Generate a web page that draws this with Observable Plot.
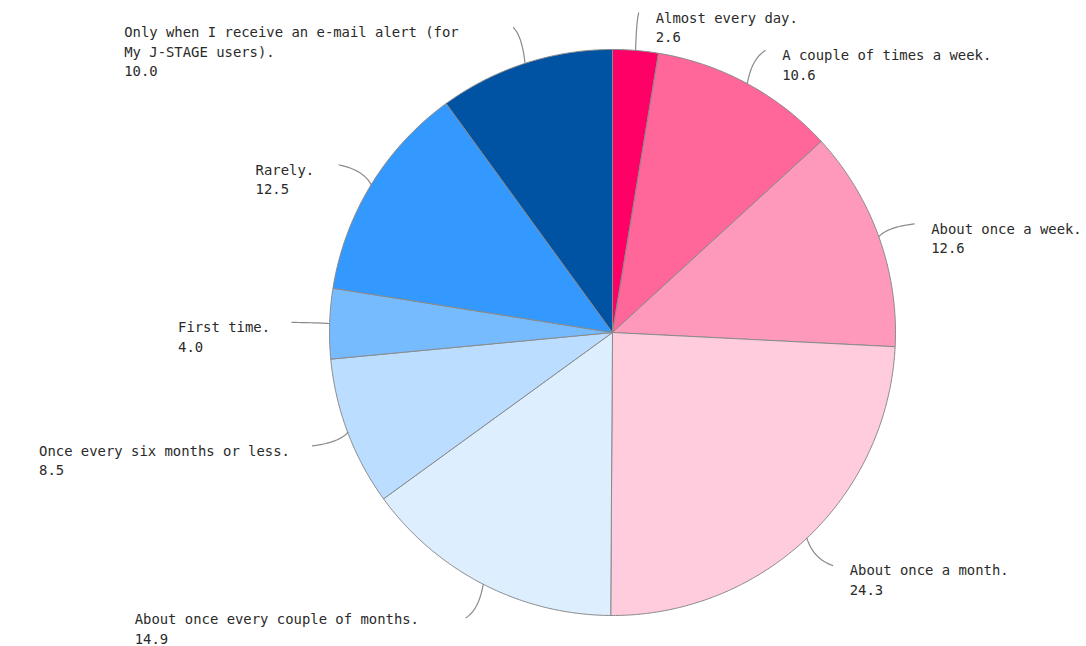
<!DOCTYPE html>
<html><head><meta charset="utf-8">
<script src="https://cdn.jsdelivr.net/npm/d3@7"></script>
<script src="https://cdn.jsdelivr.net/npm/@observablehq/plot@0.6"></script>
<style>body{margin:0;background:#fff}</style>
</head><body><div id="chart"></div>
<script>
// ---- data ----
const categories = [
  "Almost every day.",
  "A couple of times a week.",
  "About once a week.",
  "About once a month.",
  "About once every couple of months.",
  "Once every six months or less.",
  "First time.",
  "Rarely.",
  "Only when I receive an e-mail alert (for\nMy J-STAGE users)."
];
const values = [2.6, 10.6, 12.6, 24.3, 14.9, 8.5, 4.0, 12.5, 10.0];
const valueLabels = ["2.6", "10.6", "12.6", "24.3", "14.9", "8.5", "4.0", "12.5", "10.0"];
const colors = ["#FF0066", "#FF6699", "#FF99BB", "#FFCCDD", "#DDEEFF", "#BBDDFF", "#77BBFF", "#3399FF", "#0052A3"];

// ---- layout ----
const W = 1086, H = 646;
const R = 283;              // pixels per data unit (pie radius = 1)
const PX = 1 / R;
const FONT = "DejaVu Sans Mono";
const FS = 13.9;
const LH = 1.4;
const CY = 332;

const arcs = d3.pie().sort(null).value(d => d)(values);

// slice polygons
const slices = [];
arcs.forEach((a, i) => {
  slices.push({i, x: 0, y: 0, color: colors[i]});
  const n = Math.max(4, Math.ceil((a.endAngle - a.startAngle) / (Math.PI / 360)));
  for (let k = 0; k <= n; k++) {
    const t = a.startAngle + (a.endAngle - a.startAngle) * k / n;
    slices.push({i, x: Math.sin(t), y: Math.cos(t), color: colors[i]});
  }
  slices.push({i, x: 0, y: 0, color: colors[i]});
});

// leader lines + label anchors
const ctx = document.createElement("canvas").getContext("2d");
ctx.font = `${FS}px "${FONT}"`;
const leaders = [];
const labels = [];
arcs.forEach((a, i) => {
  const m = (a.startAngle + a.endAngle) / 2;
  const s = Math.sin(m), c = Math.cos(m);
  const p0 = [s, c];
  const p2 = [1.133 * s, 1.133 * c];
  const mid = [(p0[0] + p2[0]) / 2, (p0[1] + p2[1]) / 2];
  const ctrl = [0.5 * mid[0] + 0.5 * p0[0], 0.5 * mid[1] + 0.5 * p2[1]];
  for (let k = 0; k <= 16; k++) {
    const t = k / 16;
    const x = (1 - t) * (1 - t) * p0[0] + 2 * (1 - t) * t * ctrl[0] + t * t * p2[0];
    const y = (1 - t) * (1 - t) * p0[1] + 2 * (1 - t) * t * ctrl[1] + t * t * p2[1];
    leaders.push({i, x, y});
  }
  const text = categories[i] + "\n" + valueLabels[i];
  const lines = text.split("\n");
  const width = d3.max(lines, l => ctx.measureText(l).width);
  let x;
  if (s >= 0) x = p2[0] + 17 * PX;
  else x = p2[0] - (22 + 40 * Math.pow(c, 4) + width) * PX;
  // top of text block, in pixels; keep inside the picture
  let topPx = CY - p2[1] * R - 4;
  const blockH = (lines.length - 1) * LH * FS + FS * 1.05;
  topPx = Math.min(topPx, H - 2 - blockH);
  labels.push({x, y: (CY - topPx) / R, text});
});

const chart = Plot.plot({
  width: W,
  height: H,
  margin: 0,
  x: {domain: [-612 / R, (W - 612) / R], axis: null},
  y: {domain: [(CY - H) / R, CY / R], axis: null},
  color: {type: "identity"},
  style: {background: "#fff"},
  marks: [
    Plot.line(slices, {x: "x", y: "y", z: "i", fill: "color", stroke: "#8a8a8a", strokeWidth: 1, curve: "linear"}),
    Plot.line(leaders, {x: "x", y: "y", z: "i", stroke: "#8a8a8a", strokeWidth: 1.2, curve: "linear"}),
    Plot.text(labels, {x: "x", y: "y", text: "text", textAnchor: "start", lineAnchor: "top", lineHeight: LH,
      fontFamily: FONT, fontSize: FS, fill: "#2a2a2a"})
  ]
});
document.getElementById("chart").appendChild(chart);
</script>
</body></html>
